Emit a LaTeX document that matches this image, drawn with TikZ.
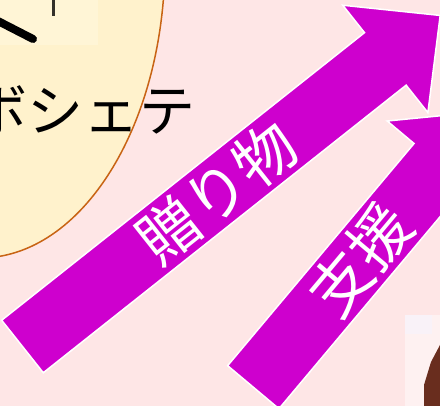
\documentclass[tikz,border=0pt]{standalone}
\usepackage{xcolor}
\usepackage{fontspec}
\usepackage{tikz}
\newfontfamily\jpfont{Noto Sans CJK JP}
\definecolor{bgpink}{RGB}{254,230,230}
\definecolor{bubble}{RGB}{255,242,204}
\definecolor{bubbleedge}{RGB}{200,100,20}
\definecolor{giftmag}{RGB}{206,0,206}
\definecolor{hairbrown}{RGB}{105,45,30}

\begin{document}
\begin{tikzpicture}[x=1pt,y=1pt,
    arrowbody/.style={fill=giftmag,draw=white,line width=1.5pt,line join=miter},
    arrowtext/.style={text=white,inner sep=0pt,font=\jpfont\fontsize{61}{61}\selectfont}]
    % backdrop
    \useasboundingbox (0,0) rectangle (440,406);
    \clip (0,0) rectangle (440,406);
    \fill[bgpink] (0,0) rectangle (440,406);

    % speech bubble, upper left
    \draw[fill=bubble,draw=bubbleedge,line width=1.5pt] (-20,446) ellipse [x radius=185, y radius=298];
    \fill[bubble!80!white] (0,361) rectangle (98,406);
    \draw[black,line width=8pt,line cap=round] (-4,386) -- (33,367);
    \draw[black!80!bubble,line width=3pt] (53,406) -- (53,390);
    \node[font=\jpfont\fontsize{56}{56}\selectfont,inner sep=0pt] (pochette) at (84,296) {ボシェテ};

    % long arrow
    \begin{scope}[shift={(22.5,59.5)},rotate=38.4]
        \draw[arrowbody] (0,-33.5) -- (463,-33.5) -- (463,-68.5) -- (533,0)
            -- (463,68.5) -- (463,33.5) -- (0,33.5) -- cycle;
        \node[arrowtext,rotate=38.4] (gift) at (248,0) {贈り物};
    \end{scope}

    % short arrow
    \begin{scope}[shift={(253.3,18.8)},rotate=50]
        \draw[arrowbody] (0,-33.5) -- (290,-33.5) -- (290,-68.5) -- (360,0)
            -- (290,68.5) -- (290,33.5) -- (0,33.5) -- cycle;
        \node[arrowtext,rotate=50] (support) at (166,0) {支援};
    \end{scope}

    % figure peeking in, lower right
    \fill[white!45!bgpink] (405,0) rectangle (440,91);
    \fill[blue!3!white!70!bgpink] (405,72) rectangle (432,91);
    \fill[hairbrown] (440,61) -- (431,44) -- (424,21) -- (424,0) -- (440,0) -- cycle;
\end{tikzpicture}
\end{document}
